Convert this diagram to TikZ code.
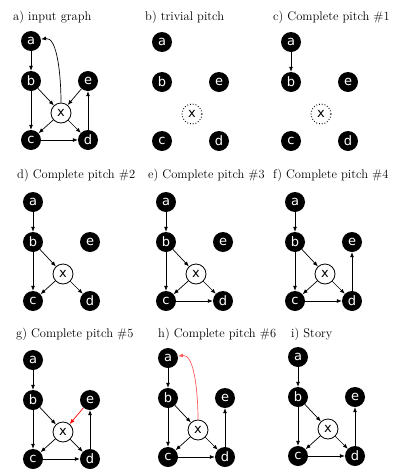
\documentclass[tikz,border=0pt]{standalone}
\usepackage{fontspec}
\newfontfamily\vertfont{DejaVu Sans}
\usetikzlibrary{arrows.meta}

\tikzset{
  vert/.style={circle, fill=black, text=white, minimum size=20pt, inner sep=0pt,
               font=\vertfont\fontsize{13}{13}\selectfont},
  hub/.style={circle, draw=black, fill=white, line width=0.8pt, minimum size=20pt,
              inner sep=0pt, font=\vertfont\fontsize{13}{13}\selectfont},
  hubdot/.style={hub, dotted, line width=1pt},
  arc/.style={-{Latex[length=5pt,width=4pt]}, line width=0.7pt},
  title/.style={anchor=base west, inner sep=0pt, font=\fontsize{12.5}{14}\selectfont},
}

% six vertices of one pitch; #1 is the style of x
\newcommand{\pitchnodes}[1]{%
  \node[vert] (a) at (0,0)   {a};
  \node[vert] (b) at (0,40)  {b};
  \node[vert] (e) at (57,40) {e};
  \node[#1]   (x) at (30,72) {x};
  \node[vert] (c) at (0,99)  {c};
  \node[vert] (d) at (57,99) {d};
}

\begin{document}
\begin{tikzpicture}[x=1pt, y=-1pt]
  \useasboundingbox (0,0) rectangle (398,469);

  % --- titles -----------------------------------------------------------
  \node[title] (ta) at (13,20)  {a) input graph};
  \node[title] (tb) at (145,20) {b) trivial pitch};
  \node[title] (tc) at (273,20) {c) Complete pitch \#1};
  \node[title] (td) at (17,178) {d) Complete pitch \#2};
  \node[title] (te) at (148,178) {e) Complete pitch \#3};
  \node[title] (tf) at (273,178) {f) Complete pitch \#4};
  \node[title] (tg) at (16,337) {g) Complete pitch \#5};
  \node[title] (th) at (158,337) {h) Complete pitch \#6};
  \node[title] (ti) at (291,337) {i) Story};

  % --- Panel a: input graph ---------------------------------------------
  \begin{scope}[shift={(31,41)}, name prefix=pa-]
    \pitchnodes{hub}
    \foreach \u/\v in {a/b,b/c,b/x,e/x,x/c,x/d,c/d,d/e}
      \draw[arc] (\u) -- (\v);
    \draw[arc] (x.north) to[out=90, in=10] (a);
  \end{scope}

  % --- Panel b: trivial pitch -------------------------------------------
  \begin{scope}[shift={(162,42)}, name prefix=pb-]
    \pitchnodes{hubdot}
  \end{scope}

  % --- Panel c ----------------------------------------------------------
  \begin{scope}[shift={(291,42)}, name prefix=pc-]
    \pitchnodes{hubdot}
    \draw[arc] (a) -- (b);
  \end{scope}

  % --- Panel d ----------------------------------------------------------
  \begin{scope}[shift={(33,202)}, name prefix=pd-]
    \pitchnodes{hub}
    \foreach \u/\v in {a/b,b/c,b/x,x/c,x/d}
      \draw[arc] (\u) -- (\v);
  \end{scope}

  % --- Panel e ----------------------------------------------------------
  \begin{scope}[shift={(166,202)}, name prefix=pe-]
    \pitchnodes{hub}
    \foreach \u/\v in {a/b,b/c,b/x,x/c,x/d,c/d}
      \draw[arc] (\u) -- (\v);
  \end{scope}

  % --- Panel f ----------------------------------------------------------
  \begin{scope}[shift={(295,202)}, name prefix=pf-]
    \pitchnodes{hub}
    \foreach \u/\v in {a/b,b/c,b/x,x/c,x/d,c/d,d/e}
      \draw[arc] (\u) -- (\v);
  \end{scope}

  % --- Panel g: new arc e -> x in red -----------------------------------
  \begin{scope}[shift={(33,360)}, name prefix=pg-]
    \pitchnodes{hub}
    \foreach \u/\v in {a/b,b/c,b/x,x/c,x/d,c/d,d/e}
      \draw[arc] (\u) -- (\v);
    \draw[arc, red] (e) -- (x);
  \end{scope}

  % --- Panel h: new arc x -> a in red -----------------------------------
  \begin{scope}[shift={(168,358)}, name prefix=ph-]
    \pitchnodes{hub}
    \foreach \u/\v in {a/b,b/c,b/x,x/c,x/d,c/d,d/e}
      \draw[arc] (\u) -- (\v);
    \draw[arc, red!65] (x.north) to[out=90, in=10] (a);
  \end{scope}

  % --- Panel i: story ---------------------------------------------------
  \begin{scope}[shift={(298,357)}, name prefix=pi-]
    \pitchnodes{hub}
    \foreach \u/\v in {a/b,b/c,b/x,x/c,x/d,c/d,d/e}
      \draw[arc] (\u) -- (\v);
  \end{scope}
\end{tikzpicture}
\end{document}
